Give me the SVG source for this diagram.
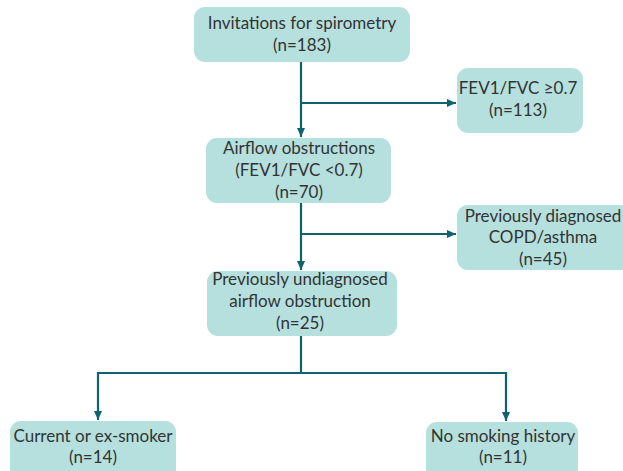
<svg xmlns="http://www.w3.org/2000/svg" width="623" height="471" viewBox="0 0 623 471">
<style>
.box{fill:#b5e0dd;stroke:none}
.t{font-family:Lato,"Liberation Sans",sans-serif;font-size:17px;fill:#333;text-anchor:middle}
.c{stroke:#0f636c;stroke-width:2.2;fill:none}
</style>
<defs>
<marker id="ah" markerUnits="userSpaceOnUse" markerWidth="10" markerHeight="10" viewBox="0 0 10 10" refX="9" refY="5" orient="auto">
<path d="M0,1 L9,5 L0,9 Z" fill="#0f636c"/>
</marker>
</defs>
<rect width="623" height="471" fill="#fff"/>
<g id="connectors">
<path class="c" d="M301,62 V137" marker-end="url(#ah)"/>
<path class="c" d="M301,103 H456" marker-end="url(#ah)"/>
<path class="c" d="M301,203 V270" marker-end="url(#ah)"/>
<path class="c" d="M301,234 H456" marker-end="url(#ah)"/>
<path class="c" d="M301,336 V373 M98,373 H506"/>
<path class="c" d="M98,372 V420" marker-end="url(#ah)"/>
<path class="c" d="M506,372 V421" marker-end="url(#ah)"/>
</g>
<g id="n1"><rect class="box" x="194" y="7" width="216" height="55" rx="11"/>
<text class="t" x="302" y="29">Invitations for spirometry</text>
<text class="t" x="302" y="51">(n=183)</text></g>
<g id="n2"><rect class="box" x="457" y="68" width="126" height="65" rx="11"/>
<text class="t" x="518" y="94">FEV1/FVC ≥0.7</text>
<text class="t" x="518" y="116">(n=113)</text></g>
<g id="n3"><rect class="box" x="206" y="138" width="185" height="65" rx="11"/>
<text class="t" x="299" y="154">Airflow obstructions</text>
<text class="t" x="299" y="176">(FEV1/FVC &lt;0.7)</text>
<text class="t" x="299" y="198">(n=70)</text></g>
<g id="n4"><rect class="box" x="457" y="205" width="175" height="65" rx="11"/>
<text class="t" x="543" y="222">Previously diagnosed</text>
<text class="t" x="543" y="243">COPD/asthma</text>
<text class="t" x="543" y="265">(n=45)</text></g>
<g id="n5"><rect class="box" x="207" y="271" width="190" height="65" rx="11"/>
<text class="t" x="300" y="285">Previously undiagnosed</text>
<text class="t" x="300" y="307">airflow obstruction</text>
<text class="t" x="300" y="329">(n=25)</text></g>
<g id="n6"><rect class="box" x="10" y="421" width="166" height="60" rx="11"/>
<text class="t" x="93" y="442">Current or ex-smoker</text>
<text class="t" x="93" y="463">(n=14)</text></g>
<g id="n7"><rect class="box" x="426" y="422" width="152" height="60" rx="11"/>
<text class="t" x="503" y="442">No smoking history</text>
<text class="t" x="503" y="463">(n=11)</text></g>
</svg>
